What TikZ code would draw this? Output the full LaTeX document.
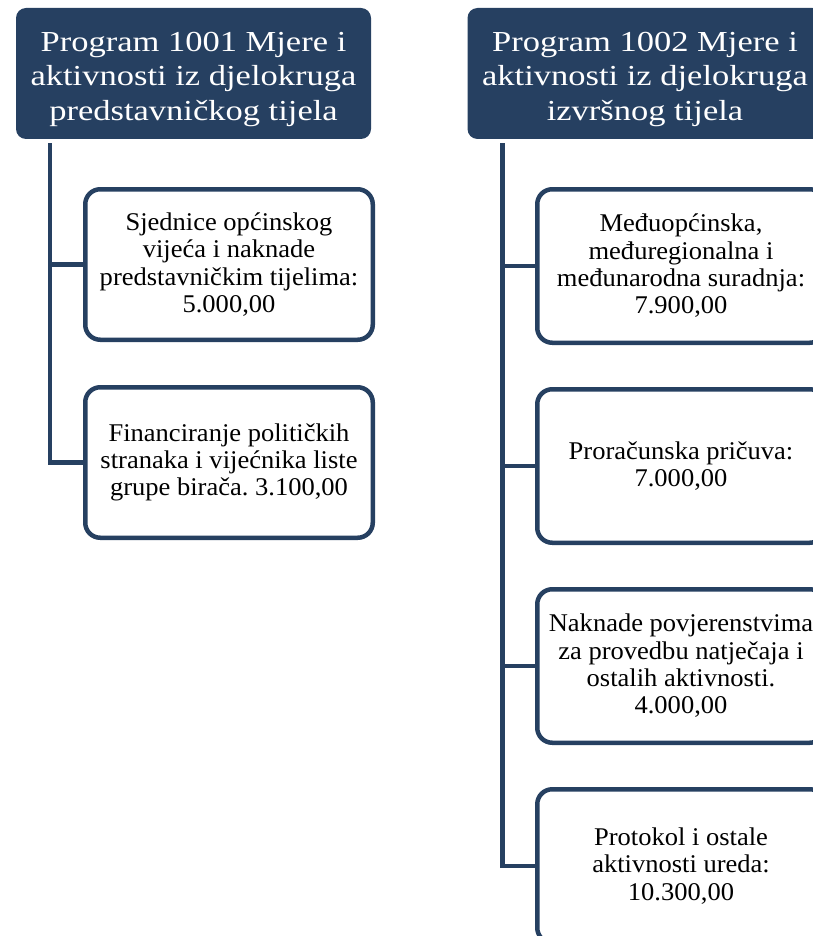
\documentclass[tikz,border=0pt]{standalone}
\usepackage{fontspec}
\setmainfont{Liberation Serif}
\newfontfamily\headfont[FakeStretch=1.19]{Liberation Serif}
\newfontfamily\itemfont[FakeStretch=1.04]{Liberation Serif}
\usepackage{xcolor}
\usetikzlibrary{positioning, calc}
\frenchspacing

\definecolor{navy}{RGB}{38,64,97}
\newcommand\headgap{\rule{0pt}{31pt}}

\begin{document}
\begin{tikzpicture}[
    x=1pt, y=-1pt,
    node distance=43pt,
    header/.style={fill=navy, text=white, rounded corners=10pt, minimum width=355pt, minimum height=131pt, inner sep=2pt, align=center, font=\headfont\fontsize{29}{34.3}\selectfont},
    item/.style={draw=navy, line width=4.5pt, fill=white, rounded corners=15pt, minimum width=287.5pt, minimum height=150.5pt, inner sep=2pt, align=center, font=\itemfont\fontsize{25.5}{27.3}\selectfont},
    tallitem/.style={item, minimum height=153.5pt},
    link/.style={draw=navy, line width=4.5pt, line join=miter},
]
\useasboundingbox (0,0) rectangle (812,936);

% Program 1001
\node[header] (p1) at (193.5,73.5) {\headgap Program 1001 Mjere i\\aktivnosti iz djelokruga\\predstavničkog tijela};
\coordinate (p1root) at ($(p1.south west)+(34,4)$);

\node[item, anchor=north west] (s1) at (83,187) {Sjednice općinskog\\vijeća i naknade\\predstavničkim tijelima:\\5.000,00};
\node[item, below=of s1] (s2) {Financiranje političkih\\stranaka i vijećnika liste\\grupe birača. 3.100,00};

\draw[link] (p1root) |- (s2.west);
\draw[link] (p1root) |- (s1.west);

% Program 1002
\node[header] (p2) at (645,73.5) {\headgap Program 1002 Mjere i\\aktivnosti iz djelokruga\\izvršnog tijela};
\coordinate (p2root) at ($(p2.south west)+(35,4)$);

\node[tallitem, anchor=north west] (i1) at (535,187) {Međuopćinska,\\međuregionalna i\\međunarodna suradnja:\\7.900,00};
\node[tallitem, below=42pt of i1] (i2) {Proračunska pričuva:\\7.000,00};
\node[tallitem, below=42pt of i2] (i3) {Naknade povjerenstvima\\za provedbu natječaja i\\ostalih aktivnosti.\\4.000,00};
\node[tallitem, below=42pt of i3] (i4) {Protokol i ostale\\aktivnosti ureda:\\10.300,00};

\draw[link] (p2root) |- (i4.west);
\foreach \n in {i1,i2,i3}
    \draw[link] (p2root) |- (\n.west);

\end{tikzpicture}
\end{document}
